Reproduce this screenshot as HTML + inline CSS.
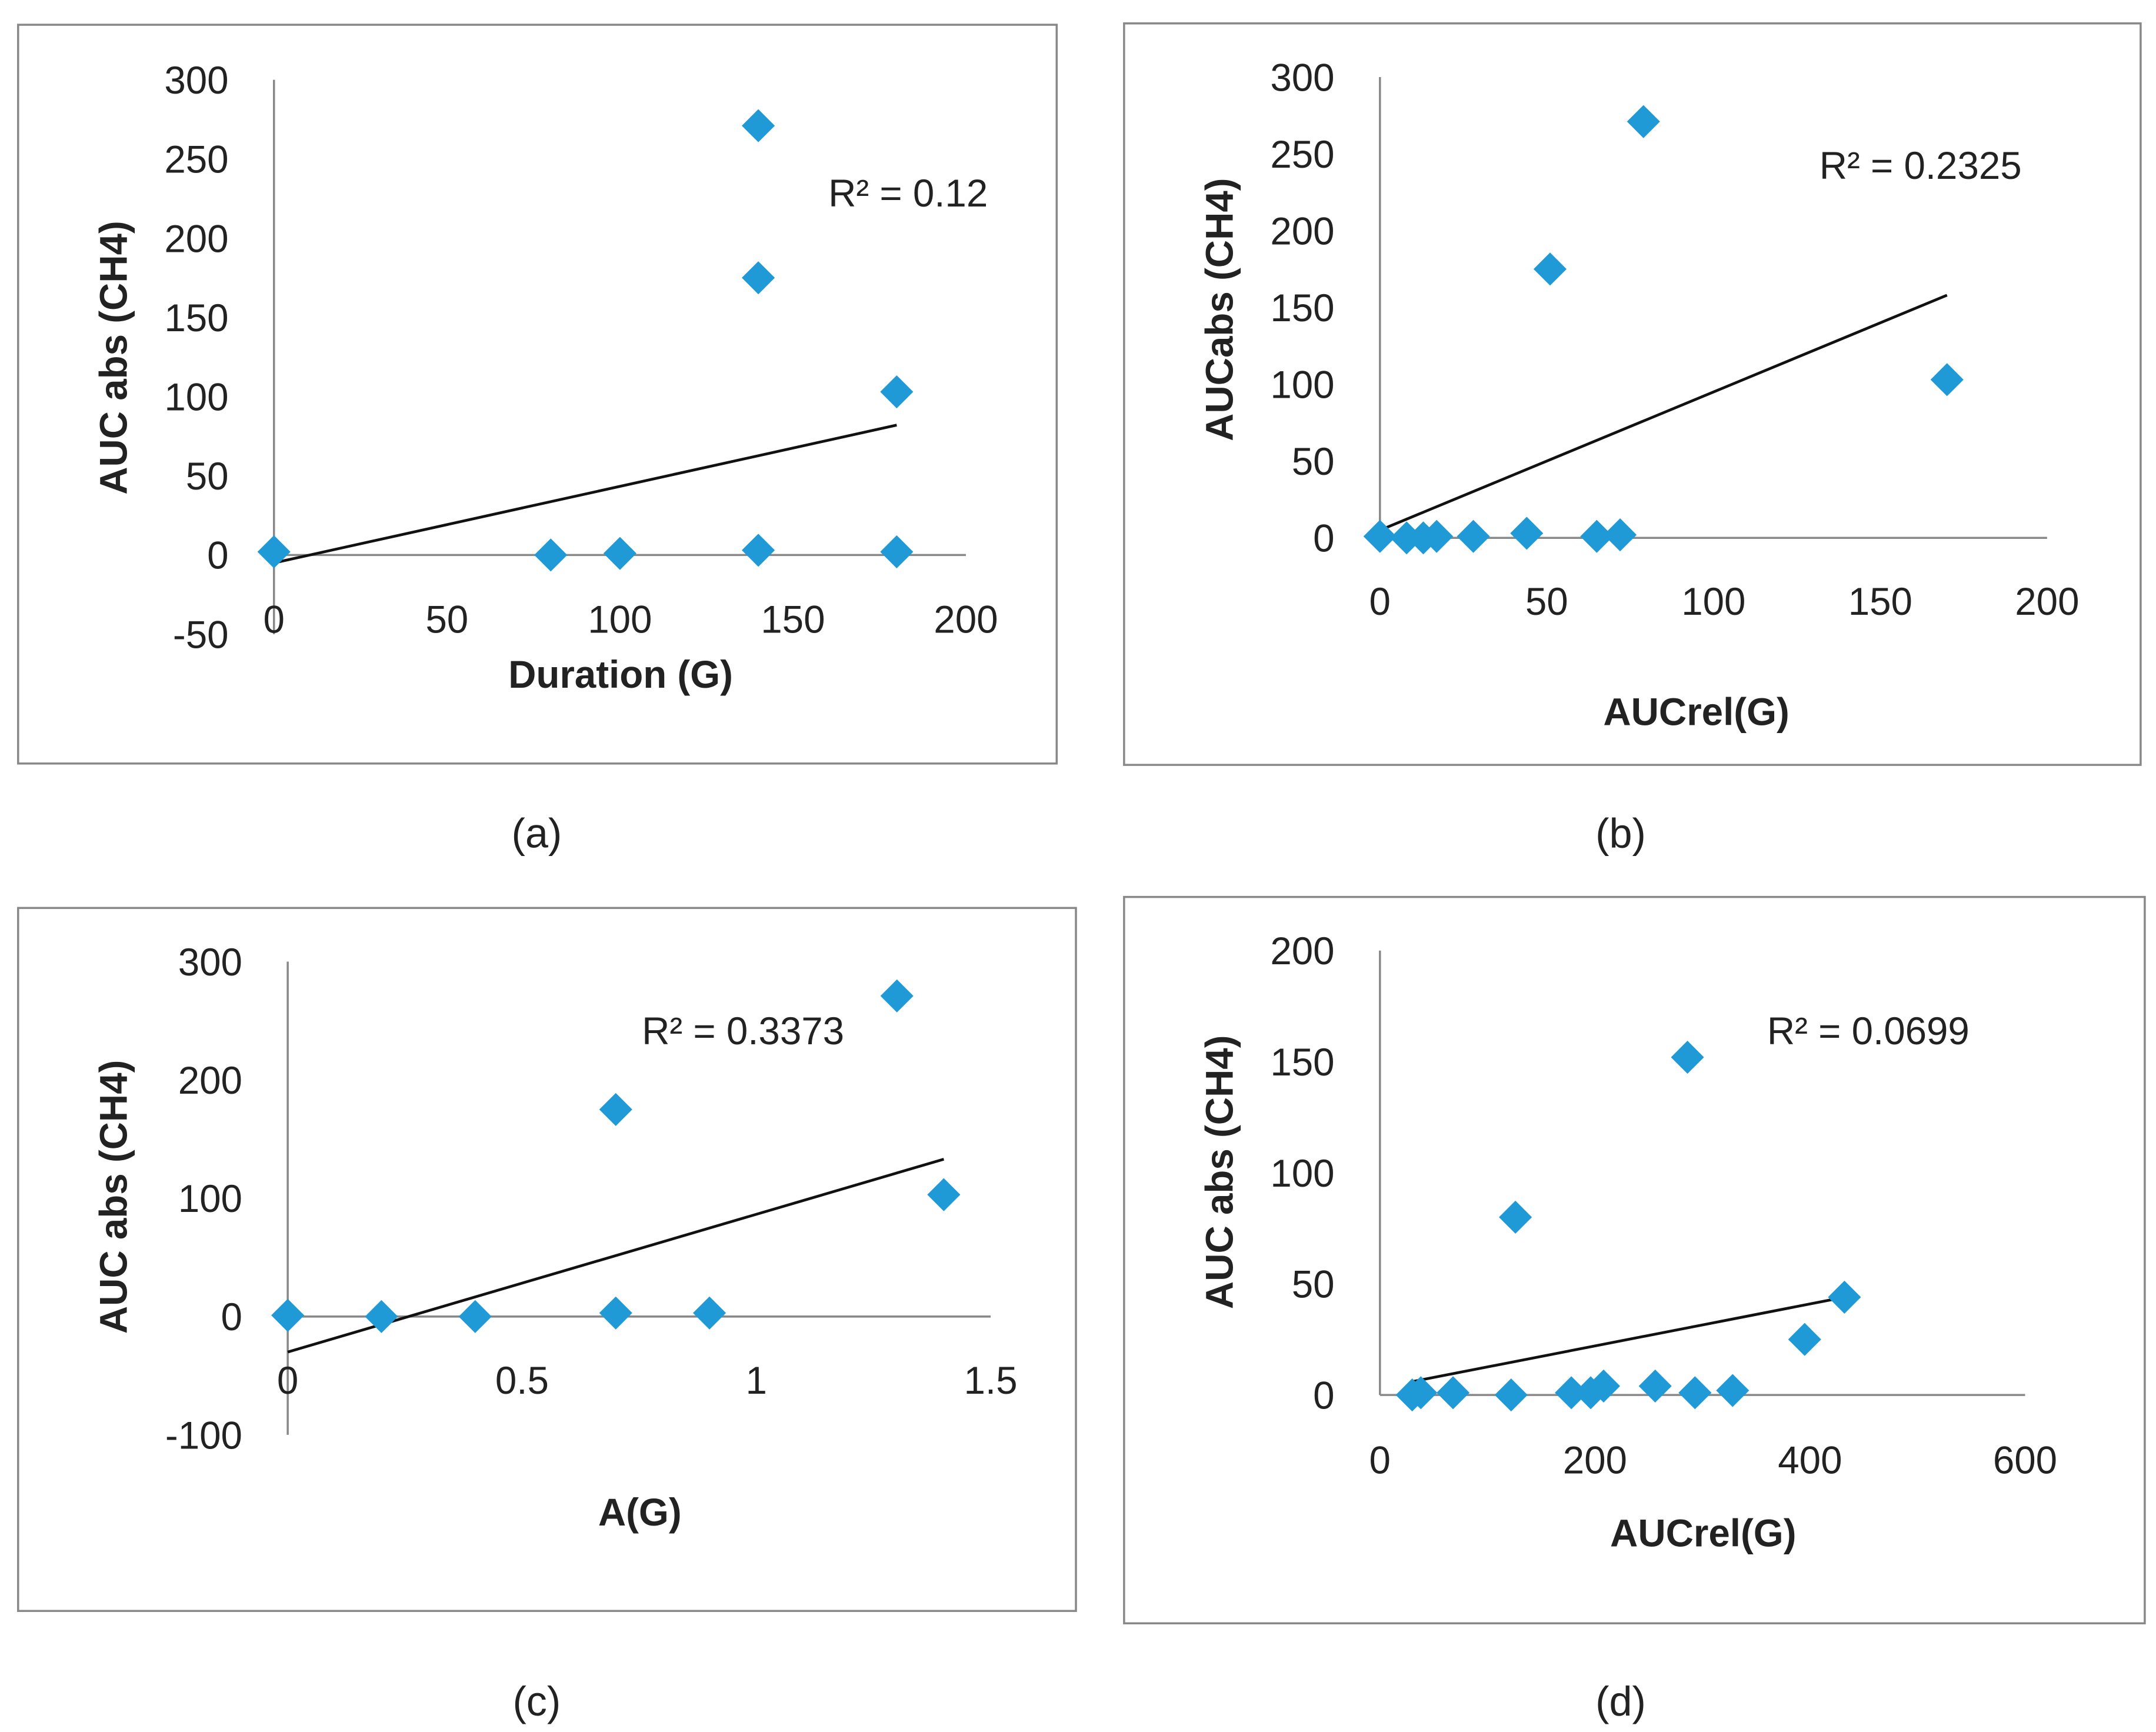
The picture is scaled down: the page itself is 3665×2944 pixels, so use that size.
<!DOCTYPE html>
<html><head><meta charset="utf-8"><style>
html,body{margin:0;padding:0;background:#fff}
svg{display:block}
text{font-family:"Liberation Sans",sans-serif;fill:#222}
</style></head><body>
<svg id="s" width="3665" height="2944" viewBox="0 0 1567 1259" xmlns="http://www.w3.org/2000/svg"></svg>
<script>
// Panel data
const aX=[0,80,100,140,140,140,180,180];
const aY=[2,0,1,3,175,271,2,103];
const aTrend=[[0,-5],[180,82]];
const bX=[0,8,13,17,28,44,51,65,72,79,170];
const bY=[1,0,0,1,1,3,175,1,2,271,103];
const bTrend=[[0,5],[170,158]];
const cX=[0,0.2,0.4,0.7,0.7,0.9,1.3,1.4];
const cY=[1,0,0,3,175,3,271,103];
const cTrend=[[0,-30],[1.4,133]];
const dX=[30,38,68,122,126,178,196,208,256,286,293,328,395,432];
const dY=[0,1,1,0,80,1,1,4,4,152,1,2,25,44];
const dTrend=[[30,6],[432,44]];
const aXTicks=[0,50,100,150,200], aYTicks=[-50,0,50,100,150,200,250,300];
const bXTicks=[0,50,100,150,200], bYTicks=[0,50,100,150,200,250,300];
const cXTicks=[0,0.5,1,1.5], cYTicks=[-100,0,100,200,300];
const dXTicks=[0,200,400,600], dYTicks=[0,50,100,150,200];

const NS="http://www.w3.org/2000/svg", svg=document.getElementById('s');
function el(t,a,p){const e=document.createElementNS(NS,t);for(const k in a)e.setAttribute(k,a[k]);(p||svg).appendChild(e);return e;}
function txt(s,a,p){const e=el('text',a,p);e.textContent=s;return e;}

function panel(P){
  const g=el('g',{});
  
  
  const fr=el('rect',{x:P.fx,y:P.fy,width:P.fw,height:P.fh,fill:'none',stroke:'#888','stroke-width':1.5},g);
  
  const sx=v=>P.x0+(v-P.xmin)/(P.xmax-P.xmin)*(P.x1-P.x0);
  const sy=v=>P.y0-(v-P.ymin)/(P.ymax-P.ymin)*(P.y0-P.y1);
  const xa=el('line',{x1:sx(P.xmin),x2:sx(P.xmax),y1:sy(0),y2:sy(0),stroke:'#888','stroke-width':1.5},g);
  
  const ya=el('line',{x1:sx(0),x2:sx(0),y1:sy(P.ymin),y2:sy(P.ymax),stroke:'#888','stroke-width':1.5},g);
  
  P.xt.forEach(v=>{const t=txt(String(v),{x:sx(v),y:P.xly,'font-size':28,'text-anchor':'middle'},g);
    });
  P.yt.forEach(v=>{const t=txt(String(v),{x:P.ylx,y:sy(v)+10,'font-size':28,'text-anchor':'end'},g);
    });
  const tl=el('line',{x1:sx(P.tr[0][0]),y1:sy(P.tr[0][1]),x2:sx(P.tr[1][0]),y2:sy(P.tr[1][1]),stroke:'#111','stroke-width':2},g);
  
  P.X.forEach((xv,i)=>{const cx=sx(xv),cy=sy(P.Y[i]),r=12;
    const m=el('polygon',{points:`${cx},${cy-r} ${cx+r},${cy} ${cx},${cy+r} ${cx-r},${cy}`,fill:'#1f9ad6'},g);
    });
  const xtl=txt(P.xtitle,{x:P.xtx,y:P.xty,'font-size':28,'font-weight':'bold','text-anchor':'middle'},g);
  
  const ytl=txt(P.ytitle,{x:0,y:0,'font-size':28,'font-weight':'bold','text-anchor':'middle',transform:`translate(${P.ytx},${P.yty}) rotate(-90)`},g);
  
  const r2=txt(P.r2,{x:P.r2x,y:P.r2y,'font-size':28,'text-anchor':'middle'},g);
  
  const cap=txt(P.cap,{x:P.capx,y:P.capy,'font-size':30,'text-anchor':'middle','font-family':'Liberation Serif, serif'},g);
  
}
panel({name:'panel-a',fx:13,fy:18,fw:755,fh:537,x0:199,x1:702,xmin:0,xmax:200,y0:461,y1:58,ymin:-50,ymax:300,
  xt:aXTicks,yt:aYTicks,xly:460,ylx:166,X:aX,Y:aY,tr:aTrend,xtitle:'Duration (G)',xtx:451,xty:500,
  ytitle:'AUC abs (CH4)',ytx:92,yty:260,r2:'R² = 0.12',r2x:660,r2y:150,cap:'(a)',capx:390,capy:616});
panel({name:'panel-b',fx:817,fy:17,fw:739,fh:539,x0:1003,x1:1488,xmin:0,xmax:200,y0:391,y1:56,ymin:0,ymax:300,
  xt:bXTicks,yt:bYTicks,xly:447,ylx:970,X:bX,Y:bY,tr:bTrend,xtitle:'AUCrel(G)',xtx:1233,xty:527,
  ytitle:'AUCabs (CH4)',ytx:896,yty:225,r2:'R² = 0.2325',r2x:1396,r2y:130,cap:'(b)',capx:1178,capy:616});
panel({name:'panel-c',fx:13,fy:660,fw:769,fh:511,x0:209,x1:720,xmin:0,xmax:1.5,y0:1043,y1:699,ymin:-100,ymax:300,
  xt:cXTicks,yt:cYTicks,xly:1013,ylx:176,X:cX,Y:cY,tr:cTrend,xtitle:'A(G)',xtx:465,xty:1109,
  ytitle:'AUC abs (CH4)',ytx:92,yty:870,r2:'R² = 0.3373',r2x:540,r2y:759,cap:'(c)',capx:390,capy:1247});
panel({name:'panel-d',fx:817,fy:652,fw:742,fh:528,x0:1003,x1:1472,xmin:0,xmax:600,y0:1014,y1:691,ymin:0,ymax:200,
  xt:dXTicks,yt:dYTicks,xly:1071,ylx:970,X:dX,Y:dY,tr:dTrend,xtitle:'AUCrel(G)',xtx:1238,xty:1124,
  ytitle:'AUC abs (CH4)',ytx:896,yty:852,r2:'R² = 0.0699',r2x:1358,r2y:759,cap:'(d)',capx:1178,capy:1247});
</script>
</body></html>
